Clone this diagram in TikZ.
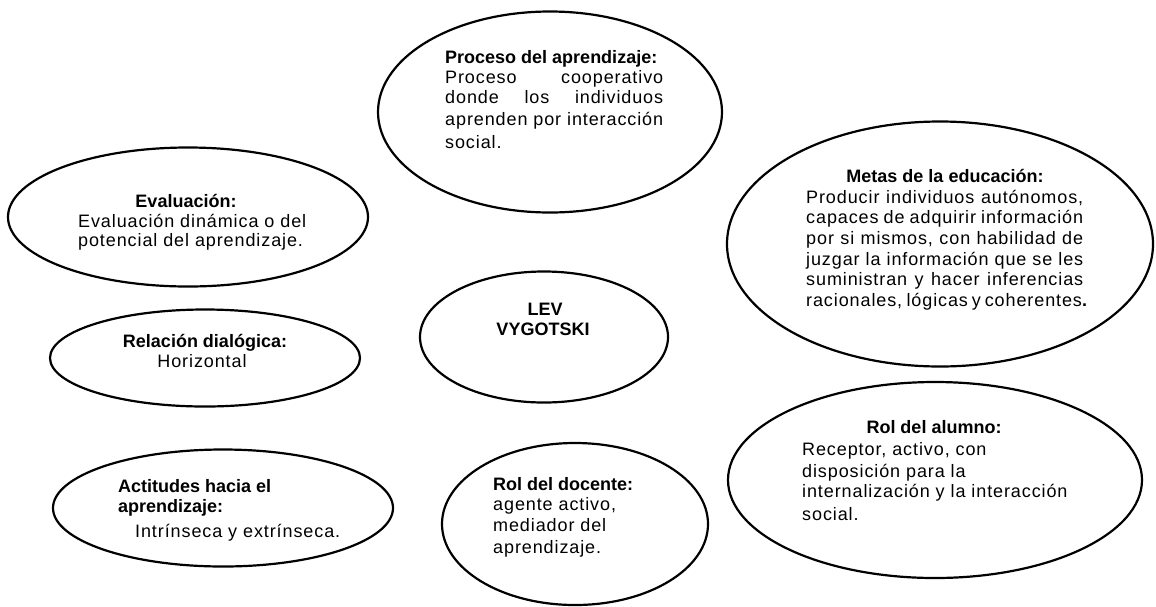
\documentclass[tikz,border=0pt]{standalone}
\usepackage{fontspec}
\setmainfont{Liberation Sans}
\newfontfamily\bodyfont[LetterSpace=5]{Liberation Sans}
\usetikzlibrary{shapes.geometric}
\newcommand\jline[2]{\makebox[#1][s]{#2}}
\tikzset{
  oval/.style={ellipse, draw=black, line width=2.2pt, inner sep=0pt, outer sep=0pt},
  head/.style={anchor=base, inner sep=0pt, font=\fontsize{18}{20.7}\selectfont\bfseries},
  headw/.style={anchor=base west, inner sep=0pt, font=\fontsize{18}{20.7}\selectfont\bfseries},
  body/.style={anchor=base west, inner sep=0pt, font=\fontsize{18}{20.7}\bodyfont},
  bodyc/.style={anchor=base, inner sep=0pt, font=\fontsize{18}{20.7}\bodyfont}
}
\begin{document}
\begin{tikzpicture}[x=1pt,y=-1pt]
\useasboundingbox (0,0) rectangle (1156,606);
% ellipses
\node[oval, minimum width=344pt, minimum height=201pt] (proc) at (550,112) {};
\node[oval, minimum width=360pt, minimum height=139pt] (eval) at (188,217) {};
\node[oval, minimum width=310pt, minimum height=97pt] (rel) at (205,358) {};
\node[oval, minimum width=340pt, minimum height=117pt] (act) at (223,508) {};
\node[oval, minimum width=248pt, minimum height=131pt] (lev) at (544,337) {};
\node[oval, minimum width=266pt, minimum height=162pt] (doc) at (575,524) {};
\node[oval, minimum width=426pt, minimum height=245pt] (metas) at (940,244) {};
\node[oval, minimum width=414pt, minimum height=196pt] (alum) at (935,480) {};
% Proceso
\node[headw] (procH) at (445,63) {Proceso del aprendizaje:};
\node[body] (procB) at (445,83) {\parbox[t]{218pt}{%
\jline{218pt}{Proceso cooperativo}\\
\jline{218pt}{donde los individuos}\\[1.3pt]
\jline{218pt}{aprenden por interacción}\\[2.3pt]
social.}};
% Evaluacion
\node[head] (evalH) at (186,207) {Evaluación:};
\node[body] (evalB) at (78,227) {\parbox[t]{240pt}{%
Evaluación dinámica o del\\[-1.7pt]
potencial del aprendizaje.}};
% Relacion
\node[head] (relH) at (205,347) {Relación dialógica:};
\node[bodyc] (relB) at (202,367) {Horizontal};
% Actitudes
\node[headw] (actH) at (118,492) {\parbox[t]{200pt}{Actitudes hacia el\\[-0.7pt]aprendizaje:}};
\node[body] (actB) at (135,537) {Intrínseca y extrínseca.};
% LEV
\node[head] (lev1) at (545,315) {LEV};
\node[head] (lev2) at (543,335) {VYGOTSKI};
% Docente
\node[headw] (docH) at (493,490) {Rol del docente:};
\node[body] (docB) at (493,510) {\parbox[t]{180pt}{%
agente activo,\\[0.7pt]
mediador del\\[1.7pt]
aprendizaje.}};
% Metas
\node[head] (metasH) at (945,182) {Metas de la educación:};
\node[body] (metasB) at (806,203) {\parbox[t]{277pt}{%
\jline{277pt}{Producir individuos autónomos,}\\
\jline{277pt}{capaces de adquirir información}\\
\jline{277pt}{por si mismos, con habilidad de}\\
\jline{277pt}{juzgar la información que se les}\\
\jline{277pt}{suministran y hacer inferencias}\\
\jline{277pt}{racionales, lógicas y coherentes\textbf{.}}}};
% Alumno
\node[head] (alumH) at (934,433) {Rol del alumno:};
\node[body] (alumB) at (802,455) {\parbox[t]{280pt}{%
Receptor, activo, con\\[1.3pt]
disposición para la\\[-0.7pt]
internalización y la interacción\\[2.3pt]
social.}};
\end{tikzpicture}
\end{document}
